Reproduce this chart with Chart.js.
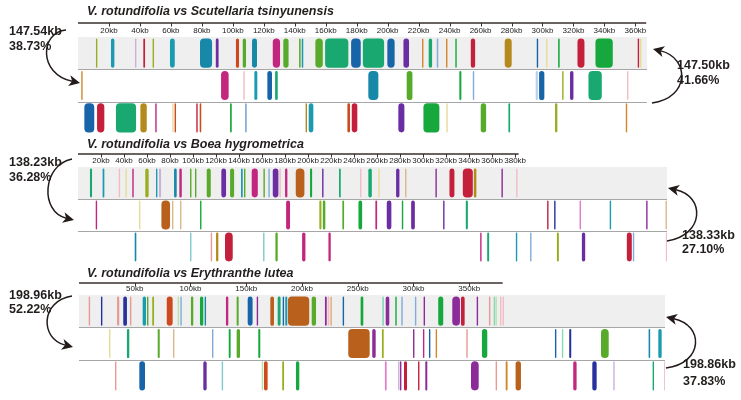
<!DOCTYPE html>
<html>
<head>
<meta charset="utf-8">
<script src="https://cdn.jsdelivr.net/npm/chart.js@4/dist/chart.umd.min.js"></script>
<style>
body { margin: 0; background: #fff; width: 741px; height: 400px; overflow: hidden; position: relative; }
.panel { position: absolute; left: 0; width: 741px; height: 135px; }
</style>
</head>
<body>
<div class="panel" style="top:0"><canvas id="c1"></canvas></div>
<div class="panel" style="top:130px"><canvas id="c2"></canvas></div>
<div class="panel" style="top:265px"><canvas id="c3"></canvas></div>
<script>
// ---- data (kb) ----
var lanes = ['top', 'mid', 'bot'];
var titles = ['V. rotundifolia vs Scutellaria tsinyunensis', 'V. rotundifolia vs Boea hygrometrica', 'V. rotundifolia vs Erythranthe lutea'];
var leftLabels = [['147.54kb', '38.73%'], ['138.23kb', '36.28%'], ['198.96kb', '52.22%']];
var rightLabels = [['147.50kb', '41.66%'], ['138.33kb', '27.10%'], ['198.86kb', '37.83%']];
var topLength = [367, 383, 380];
var fullLength = [367.5, 512, 525.6];
var tickStep = [20, 20, 50];

// panel 1
var p1Top = [[11.6,12.3],[21.3,23.5],[36.8,37.3],[42.2,43.3],[48.2,49.1],[59.4,62.5],[78.8,86.6],[89,90.8],[102,104],[106.4,108.5],[112.4,115.6],[125.8,130.5],[132.6,136],[142.8,143.8],[144.5,145.5],[153.3,158.1],[159.6,174.6],[176.4,182.6],[184,197.7],[199.8,204.5],[210.2,213.8],[222.2,222.7],[226.5,228.7],[231.7,232.7],[237.7,238.4],[243.7,244.6],[253.7,256.5],[275.6,280.1],[296.3,297],[302.3,302.7],[310.1,311.1],[322.6,327.1],[334.2,345.4],[361.5,362.2],[363,363.4]];
var p1Mid = [[2.1,2.8],[92.4,97.3],[106.8,107.2],[113.9,115.8],[122.3,125.3],[127.3,129],[187.5,194],[212.3,216],[246.3,247.6],[255,255.6],[295.6,297],[297.8,301.2],[312.7,313.5],[317.8,320],[329.7,338.3],[354.6,355]];
var p1Bot = [[4.1,10.5],[12.3,17],[24.5,37.5],[40.3,44.4],[49.9,50.6],[60.9,61.8],[62.4,63.3],[76.4,76.9],[78.6,79.6],[98.2,99.3],[107.9,109],[147,147.7],[149,152],[174,175.7],[176.8,180.4],[206.9,210.8],[223.1,233.4],[237.9,238.4],[260.1,263.6],[278,279.1],[308.1,309.6],[353.8,354.7]];

// panel 2
var p2Top = [[10.4,12.2],[21.4,22.9],[35.4,35.9],[41.2,41.7],[47.2,48.4],[58.5,61.4],[67.8,69],[70.4,72.2],[83.5,85.8],[88.1,90.2],[97.4,98.5],[101.7,102.6],[111.9,115.4],[124.6,128.7],[132.2,135.7],[141.7,143.2],[144.3,145.2],[151,156.3],[161.2,162],[165.5,166.7],[169.3,174.2],[175,176.3],[180,182],[189.3,196.8],[201.7,203.5],[212.2,213.3],[226.9,228.4],[245.2,246.3],[252.4,255.4],[261.1,262],[276.5,279.4],[284.3,285.2],[310.7,311.6],[322.9,327.2],[334.5,343.2],[344.1,346.3],[368.1,368.7],[380.9,381.7]];
var p2Mid = [[15.4,16.5],[53,53.6],[72.5,80],[81.7,82.9],[88.7,89.8],[106.1,107],[180.9,184.3],[209.8,211.6],[212.8,215],[229.8,231.3],[243.8,247],[258.5,260],[268.4,272.4],[281.5,282.6],[289.6,292.8],[317.4,318.5],[337.1,338.9],[407.8,408.7],[413.9,415],[436,436.8],[462.2,463.2],[493.9,495],[510.7,511.6]];
var p2Bot = [[49.3,50.7],[97.4,98.5],[115.4,116.2],[120,122],[127.8,134.5],[160.9,162],[171.6,173.6],[194.8,197.7],[217.7,219.7],[349.6,350.4],[355.7,357.4],[380.6,381.4],[393,394.2],[416.3,418],[438,440.9],[477.1,481.4],[482.3,482.9],[511,511.6]];

// panel 3
var p3Top = [[8.7,9.6],[19.7,20.9],[34.1,36.1],[39.7,43],[45.7,46.6],[57.1,60.1],[61,61.9],[65.7,67.3],[78.7,84],[88.5,89.3],[90.9,91.7],[100.4,102.5],[108.5,111.5],[112.7,113.6],[131.8,133.9],[141.4,143.2],[151.3,155.7],[159.4,160.3],[171.6,174.9],[178.2,180.8],[182.7,183.9],[185,186.8],[187.4,206.5],[208.7,212.6],[220.6,222.2],[223,224.5],[225.4,226.9],[236.5,237.4],[252.6,255],[272,273.5],[275.1,278.3],[283.7,284.9],[289.1,289.9],[301.3,301.9],[309.1,310],[322.2,326.7],[334.8,341.7],[342.6,345.9],[356.7,357.8],[367.7,368.6],[371.9,373.2],[373.5,374.6],[377.6,378.1],[379.9,380.5]];
var p3Mid = [[26.9,27.5],[43,45.1],[70.6,72.4],[84.3,84.9],[119.3,120.2],[134.3,136],[141.4,144.4],[160.8,162.6],[241.5,260.7],[263,266.1],[271.7,273.3],[299.6,300.7],[308.5,309.7],[313.9,315.1],[319.9,321.1],[347.4,348.3],[361.4,366.2],[426.9,427.5],[433.1,434],[439.7,441.5],[468.2,475.1],[510.9,512.3],[519.6,522.6]];
var p3Bot = [[32.3,33.2],[54.1,59.2],[111.5,114.5],[128,128.8],[163.9,164.4],[165.9,169.2],[182.3,183.9],[194.6,197.6],[274.4,275.9],[286.2,286.8],[287.9,288.8],[291.5,294.2],[304.1,305],[310.6,312.4],[351.6,358.5],[373.7,374.6],[382.7,384.4],[391.6,396.4],[443.3,446.3],[460.4,464.3],[479.2,480.1],[514.5,515.3],[524.8,525.4]];

// ---- colours (one key per block) ----
var pal = {
  te: '#1b9bb0', te2: '#1788a8', bl: '#1764a8', nv: '#28309c', pu: '#6a2da2', vi: '#8c2c98',
  ma: '#c2267f', cr: '#c41f3b', ro: '#cc4a1e', br: '#b8601c', go: '#b48a1c', or: '#d4862a',
  ol: '#98ae1e', gr: '#58aa2a', gr2: '#16a83c', sg: '#18a870', py: '#e6dc98', pp: '#f2bcc6',
  lb: '#80acd8', pb: '#b8d0e8', lav: '#cbb0dc', tan: '#dab88a', sa: '#e89a94', lt: '#80c8cc',
  mint: '#8ad8b8', pg: '#b8e0a8', pk: '#e07ac8'
};
var p1TopCol = ['ol','te','lav','cr','ol','te','te2','pu','ro','gr','te2','ma','gr','gr','te','gr','sg','bl','sg','bl','pu','or','sg','lb','or','gr2','cr','go','bl','py','gr2','cr','gr2','cr','py'];
var p1MidCol = ['or','ma','pp','te','bl','sg','te2','gr','gr2','lb','pb','bl','ol','pu','sg','pp'];
var p1BotCol = ['bl','cr','sg','go','ma','py','ro','cr','ro','gr2','lb','go','te','ro','cr','pu','gr2','py','gr','sg','ol','or'];
var p2TopCol = ['sg','te','pp','py','ma','ol','te','lav','te2','ma','gr','gr','gr','pu','gr','te','gr','ma','gr','lb','pu','pp','ma','br','gr2','pu','sg','pp','sg','py','pu','tan','vi','cr','cr','go','vi','pp'];
var p2MidCol = ['ma','py','br','tan','tan','gr2','ma','ol','gr','gr','gr2','ma','pu','gr2','pu','pu','sg','cr','nv','pk','te','vi','tan'];
var p2BotCol = ['te2','lt','sa','go','cr','lt','gr','ma','ma','ma','sg','te','lb','ol','pu','cr','lb','pp'];
var p3TopCol = ['sa','nv','sa','nv','sa','te','gr','ol','ro','pg','lb','gr','gr2','te2','ma','gr','bl','vi','br','sg','bl','te','br','gr','vi','pp','tan','bl','gr2','mint','vi','gr2','lb','lb','vi','gr2','vi','cr','vi','sa','mint','pg','pp','pp'];
var p3MidCol = ['py','sg','gr','tan','lb','gr2','gr','gr2','br','vi','ol','vi','ma','bl','or','sa','gr2','bl','mint','nv','gr','te2','te'];
var p3BotCol = ['sa','bl','pu','lt','pg','ro','ol','gr2','pk','lav','vi','cr','cr','vi','vi','sa','or','br','ma','nv','lav','sg','pp'];

var panelData = [[p1Top, p1Mid, p1Bot], [p2Top, p2Mid, p2Bot], [p3Top, p3Mid, p3Bot]];
var panelCols = [[p1TopCol, p1MidCol, p1BotCol], [p2TopCol, p2MidCol, p2BotCol], [p3TopCol, p3MidCol, p3BotCol]];

// ---- layout per panel (canvas-local pixels) ----
var layout = [
  { chartTop: 37, chartBottom: 134, padRight: 94, padLeft: 78, titleY: 12, axisY: 23, leftY: [31.5, 46.5], rightX: 677, rightY: [66, 81],
    la: [[66,30],[40,32],[38,74],[80,83]], ra: [[652,103],[690,98],[690,58],[653,49]] },
  { chartTop: 37, chartBottom: 133, padRight: 74, padLeft: 78, titleY: 15, axisY: 24, leftY: [33, 48], rightX: 682, rightY: [106, 120],
    la: [[72,29],[42,35],[40,82],[74,90]], ra: [[667,111],[705,105],[705,66],[668,58]] },
  { chartTop: 30, chartBottom: 127, padRight: 76, padLeft: 79, titleY: 9, axisY: 18, leftY: [31, 45], rightX: 683, rightY: [100, 117],
    la: [[72,31],[40,36],[40,74],[73,82]], ra: [[666,103],[704,98],[704,60],[666,52]] }
];

function drawArrow(ctx, pts) {
  var p0 = pts[0], c1 = pts[1], c2 = pts[2], p3 = pts[3];
  var dx = p3[0] - c2[0], dy = p3[1] - c2[1];
  var len = Math.sqrt(dx * dx + dy * dy);
  var ux = dx / len, uy = dy / len;
  var hl = 11, hw = 5.5;
  var bx = p3[0] - ux * hl, by = p3[1] - uy * hl;
  ctx.beginPath();
  ctx.moveTo(p0[0], p0[1]);
  ctx.bezierCurveTo(c1[0], c1[1], c2[0], c2[1], bx + ux * 3, by + uy * 3);
  ctx.stroke();
  ctx.beginPath();
  ctx.moveTo(p3[0], p3[1]);
  ctx.lineTo(bx - uy * hw, by + ux * hw);
  ctx.lineTo(bx + ux * 3, by + uy * 3);
  ctx.lineTo(bx + uy * hw, by - ux * hw);
  ctx.closePath();
  ctx.fill();
}

function makeDecor(i) {
  var L = layout[i];
  return {
    id: 'decor' + i,
    beforeDatasetsDraw: function (chart) {
      var a = chart.chartArea, ctx = chart.ctx;
      var h = (a.bottom - a.top) / 3;
      ctx.save();
      ctx.fillStyle = '#efefef';
      ctx.fillRect(a.left, a.top, a.right - a.left, h);
      ctx.strokeStyle = '#a6a6a6';
      ctx.lineWidth = 1;
      [1, 2].forEach(function (k) {
        var y = Math.round(a.top + h * k) + 0.5;
        ctx.beginPath();
        ctx.moveTo(a.left, y);
        ctx.lineTo(a.right, y);
        ctx.stroke();
      });
      ctx.restore();
    },
    afterDraw: function (chart) {
      var ctx = chart.ctx, xs = chart.scales.x;
      ctx.save();
      // axis line and tick marks above the labels
      ctx.strokeStyle = '#3a2e2e';
      ctx.lineWidth = 1.6;
      ctx.beginPath();
      ctx.moveTo(xs.getPixelForValue(0), L.axisY);
      ctx.lineTo(xs.getPixelForValue(topLength[i]), L.axisY);
      ctx.stroke();
      ctx.lineWidth = 1;
      xs.ticks.forEach(function (t) {
        var x = Math.round(xs.getPixelForValue(t.value)) + 0.5;
        ctx.beginPath();
        ctx.moveTo(x, L.axisY);
        ctx.lineTo(x, L.axisY + 3.5);
        ctx.stroke();
      });
      // title
      ctx.fillStyle = '#231e1e';
      ctx.textBaseline = 'middle';
      ctx.textAlign = 'left';
      ctx.font = 'italic bold 12.5px "Liberation Sans", Arial, sans-serif';
      ctx.fillText(titles[i], 87, L.titleY);
      // side labels
      ctx.font = 'bold 12.5px "Liberation Sans", Arial, sans-serif';
      ctx.fillText(leftLabels[i][0], 9, L.leftY[0]);
      ctx.fillText(leftLabels[i][1], 9, L.leftY[1]);
      ctx.fillText(rightLabels[i][0], L.rightX, L.rightY[0]);
      ctx.fillText(rightLabels[i][1], L.rightX, L.rightY[1]);
      // curved arrows
      ctx.strokeStyle = '#231a1a';
      ctx.fillStyle = '#231a1a';
      ctx.lineWidth = 1.5;
      drawArrow(ctx, L.la);
      drawArrow(ctx, L.ra);
      ctx.restore();
    }
  };
}

function buildChart(i) {
  var L = layout[i];
  var points = [], colors = [];
  panelData[i].forEach(function (lane, k) {
    lane.forEach(function (b, j) {
      points.push({ x: b, y: lanes[k] });
      colors.push(pal[panelCols[i][k][j]]);
    });
  });
  var ctx = document.getElementById('c' + (i + 1)).getContext('2d');
  return new Chart(ctx, {
    type: 'bar',
    data: {
      labels: lanes,
      datasets: [{
        data: points,
        backgroundColor: colors,
        borderWidth: 0,
        borderSkipped: false,
        borderRadius: 4,
        minBarLength: 1.4,
        barPercentage: 0.9,
        categoryPercentage: 1
      }]
    },
    options: {
      indexAxis: 'y',
      responsive: true,
      maintainAspectRatio: false,
      animation: false,
      layout: { padding: { left: L.padLeft, right: L.padRight, top: L.chartTop - 11.6, bottom: 135 - L.chartBottom } },
      plugins: { legend: { display: false }, tooltip: { enabled: false }, title: { display: false } },
      scales: {
        x: {
          type: 'linear',
          position: 'top',
          min: 0,
          max: fullLength[i],
          afterBuildTicks: function (s) {
            s.ticks = s.ticks.filter(function (t) { return t.value > 0 && t.value <= topLength[i] && t.value % tickStep[i] === 0; });
          },
          ticks: {
            stepSize: tickStep[i],
            includeBounds: false,
            autoSkip: false,
            maxRotation: 0,
            padding: 1,
            color: '#222',
            font: { size: 8, family: '"Liberation Sans", Arial, sans-serif' },
            callback: function (v) { return v + 'kb'; }
          },
          grid: { display: false, drawTicks: false },
          border: { display: false }
        },
        y: { type: 'category', display: false }
      }
    },
    plugins: [makeDecor(i)]
  });
}

[0, 1, 2].forEach(buildChart);
</script>
</body>
</html>
